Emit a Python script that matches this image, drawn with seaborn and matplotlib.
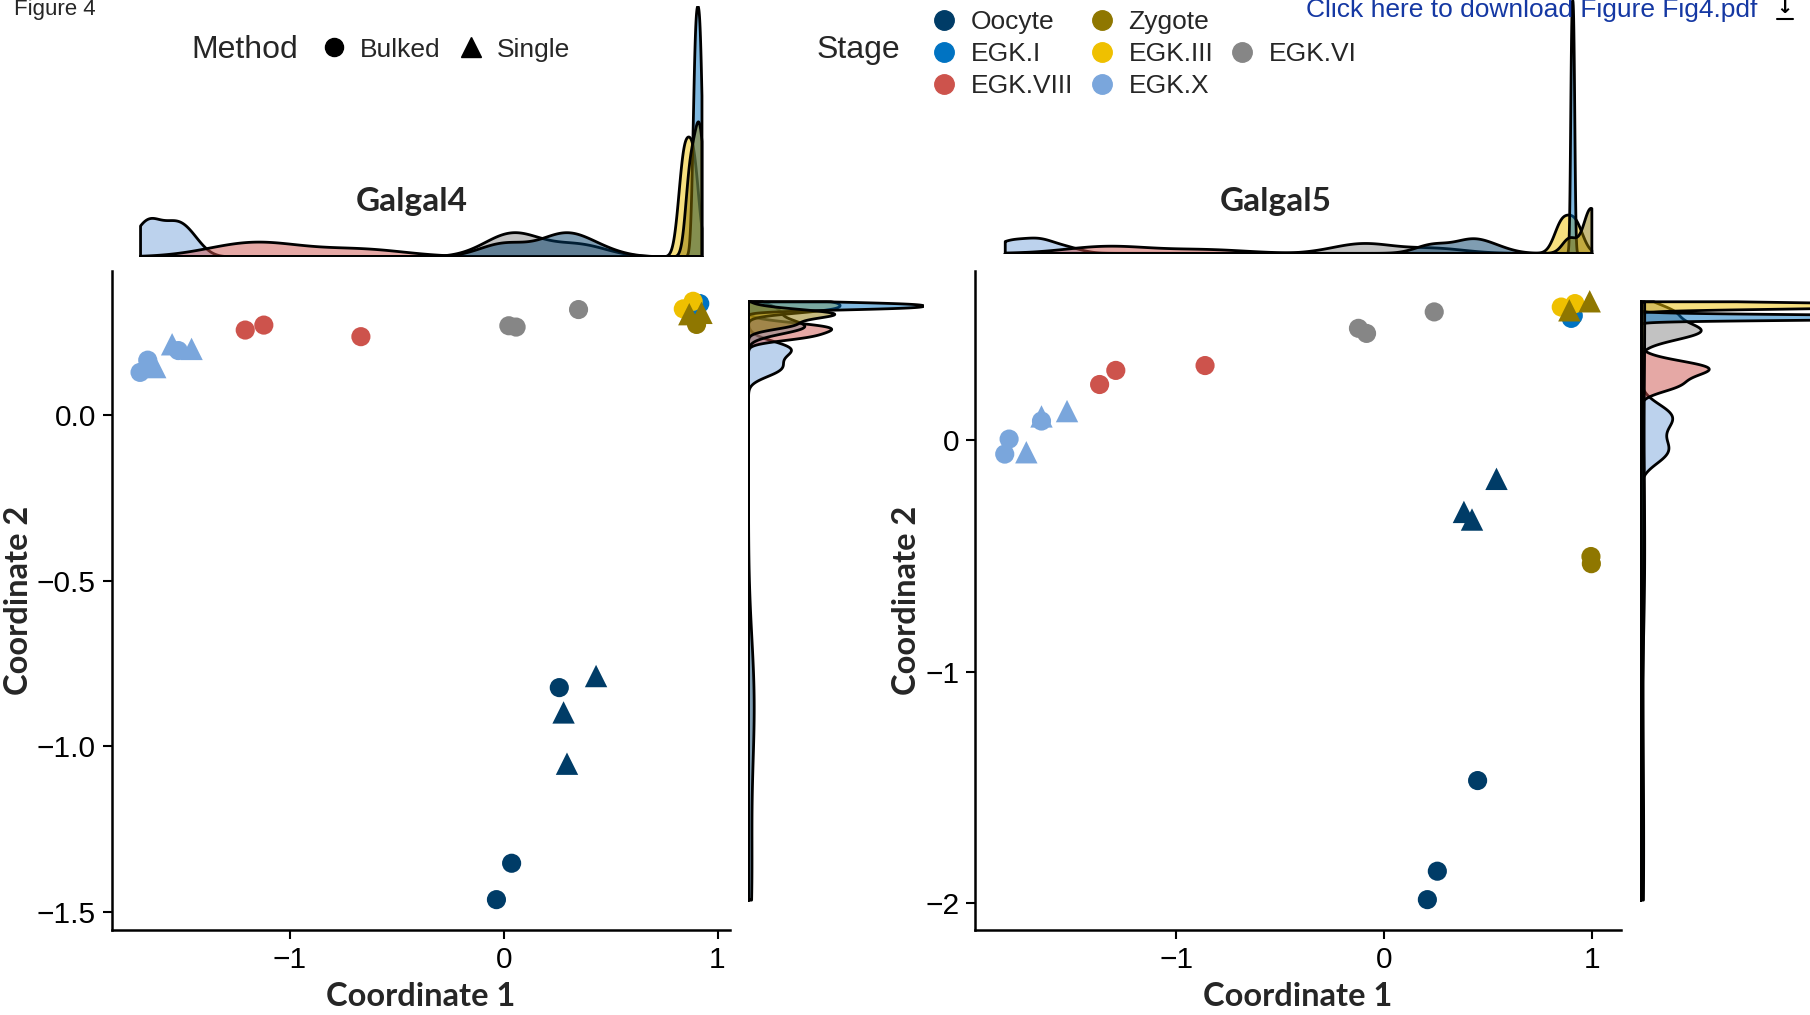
import numpy as np
import pandas as pd
import matplotlib
matplotlib.use("Agg")
import matplotlib.pyplot as plt
from matplotlib.lines import Line2D
from matplotlib.ticker import MultipleLocator
import seaborn as sns

# Stage / method levels and colours (JCO palette)
stage_order = ["Oocyte", "Zygote", "EGK.I", "EGK.III", "EGK.VI", "EGK.VIII", "EGK.X"]
stage_colors = ["#003C67", "#8F7700", "#0073C2", "#EFC000", "#868686", "#CD534C", "#7AA6DC"]
method_order = ["Bulked", "Single"]
method_markers = ["o", "^"]

# Galgal4 MDS coordinates
g4_stage = ["Oocyte", "Oocyte", "Oocyte", "Oocyte", "Oocyte", "Oocyte",
            "EGK.I", "EGK.I", "EGK.III", "EGK.III", "Zygote", "Zygote", "Zygote",
            "EGK.VI", "EGK.VI", "EGK.VI", "EGK.VIII", "EGK.VIII", "EGK.VIII",
            "EGK.X", "EGK.X", "EGK.X", "EGK.X", "EGK.X", "EGK.X"]
g4_method = ["Bulked", "Bulked", "Bulked", "Single", "Single", "Single",
             "Bulked", "Bulked", "Bulked", "Bulked", "Bulked", "Single", "Single",
             "Bulked", "Bulked", "Bulked", "Bulked", "Bulked", "Bulked",
             "Bulked", "Bulked", "Bulked", "Single", "Single", "Single"]
g4_x = [0.260, 0.037, -0.034, 0.432, 0.280, 0.296,
        0.895, 0.917, 0.886, 0.840, 0.902, 0.868, 0.925,
        0.024, 0.058, 0.350, -1.209, -1.122, -0.668,
        -1.701, -1.665, -1.522, -1.630, -1.551, -1.460]
g4_y = [-0.823, -1.354, -1.464, -0.788, -0.898, -1.053,
        0.326, 0.338, 0.345, 0.322, 0.275, 0.306, 0.310,
        0.271, 0.267, 0.320, 0.258, 0.273, 0.238,
        0.130, 0.167, 0.196, 0.146, 0.215, 0.201]

# Galgal5 MDS coordinates
g5_stage = ["Oocyte", "Oocyte", "Oocyte", "Oocyte", "Oocyte", "Oocyte",
            "EGK.I", "EGK.I", "EGK.III", "EGK.III", "Zygote", "Zygote", "Zygote", "Zygote",
            "EGK.VI", "EGK.VI", "EGK.VI", "EGK.VIII", "EGK.VIII", "EGK.VIII",
            "EGK.X", "EGK.X", "EGK.X", "EGK.X", "EGK.X", "EGK.X"]
g5_method = ["Bulked", "Bulked", "Bulked", "Single", "Single", "Single",
             "Bulked", "Bulked", "Bulked", "Bulked", "Bulked", "Bulked", "Single", "Single",
             "Bulked", "Bulked", "Bulked", "Bulked", "Bulked", "Bulked",
             "Bulked", "Bulked", "Bulked", "Single", "Single", "Single"]
g5_x = [0.451, 0.257, 0.209, 0.542, 0.385, 0.424,
        0.902, 0.912, 0.854, 0.920, 0.997, 0.999, 0.893, 0.991,
        -0.123, -0.084, 0.242, -1.370, -1.292, -0.862,
        -1.806, -1.827, -1.650, -1.723, -1.650, -1.527]
g5_y = [-1.471, -1.863, -1.986, -0.166, -0.309, -0.342,
        0.528, 0.540, 0.577, 0.592, -0.502, -0.533, 0.563, 0.602,
        0.485, 0.463, 0.556, 0.242, 0.303, 0.324,
        0.006, -0.059, 0.084, -0.051, 0.104, 0.127]

palette = dict(zip(stage_order, stage_colors))
markers = dict(zip(method_order, method_markers))

sns.set_theme(style="ticks")
plt.rcParams["font.family"] = ["Liberation Sans", "DejaVu Sans"]

fig = plt.figure(figsize=(18.10, 10.15), dpi=100)
W, H = 1568, 879


def rect(l, t, r, b):
    return [l / W, 1 - b / H, (r - l) / W, (b - t) / H]


def curve_max(ax, col):
    return max(p.vertices[:, col].max() for c in ax.collections for p in c.get_paths())


def panel(df, main_r, top_r, side_r, title, title_x, ytick_step):
    ax = fig.add_axes(rect(*main_r))
    sns.scatterplot(data=df, x="x", y="y", hue="stage", hue_order=stage_order, palette=palette,
                    style="method", markers=markers, size="method",
                    sizes={"Bulked": 190, "Single": 260}, linewidth=0, legend=False, ax=ax)
    ax.margins(0.05)
    ax.xaxis.set_major_locator(MultipleLocator(1))
    ax.yaxis.set_major_locator(MultipleLocator(ytick_step))
    sns.despine(ax=ax)
    for s in ["left", "bottom"]:
        ax.spines[s].set_linewidth(1.8)
        ax.spines[s].set_color("black")
    ax.tick_params(length=6.5, width=1.5, labelsize=21.5, colors="black", pad=5)
    ax.set_xlabel("Coordinate 1", fontsize=23.5, fontweight="bold", family="Lato", labelpad=6)
    ax.set_ylabel("Coordinate 2", fontsize=23.5, fontweight="bold", family="Lato", labelpad=3)

    # ggplot-style densities: one per stage, each evaluated over the whole data range
    kde_kws = dict(hue="stage", hue_order=stage_order, palette=palette, fill=True,
                   common_norm=False, cut=1e4, bw_adjust=0.9, gridsize=3000, alpha=0.5,
                   linewidth=2, edgecolor="black", legend=False)

    ax_top = fig.add_axes(rect(*top_r))
    sns.kdeplot(data=df, x="x", clip=(df["x"].min(), df["x"].max()), ax=ax_top, **kde_kws)
    ax_top.set_xlim(ax.get_xlim())
    ax_top.set_ylim(0, curve_max(ax_top, 1))
    ax_top.axis("off")

    ax_side = fig.add_axes(rect(*side_r))
    sns.kdeplot(data=df, y="y", clip=(df["y"].min(), df["y"].max()), ax=ax_side, **kde_kws)
    ax_side.set_ylim(ax.get_ylim())
    ax_side.set_xlim(0, curve_max(ax_side, 0))
    ax_side.axis("off")

    fig.text(title_x, 0.801, title, ha="center", va="center", fontsize=24,
             fontweight="bold", family="Lato")
    return ax


df4 = pd.DataFrame({"stage": g4_stage, "method": g4_method, "x": g4_x, "y": g4_y})
df5 = pd.DataFrame({"stage": g5_stage, "method": g5_method, "x": g5_x, "y": g5_y})

panel(df4, (97, 235, 632, 805), (97, 5, 632, 222), (648, 235, 800, 805),
      "Galgal4", 0.2277, 0.5)
panel(df5, (845, 235, 1404, 805), (845, 0, 1404, 219), (1421, 235, 1700, 805),
      "Galgal5", 0.7047, 1)

# legends
method_handles = [Line2D([], [], marker=m, ls="", color="black",
                         markersize=13 if m == "o" else 15) for m in method_markers]
fig.text(0.1059, 0.951, "Method", fontsize=23, va="center", ha="left")
fig.legend(method_handles, method_order, loc="center left", bbox_to_anchor=(0.177, 0.951),
           ncol=2, frameon=False, fontsize=19, handlelength=1.0, handletextpad=0.5,
           columnspacing=0.65, borderpad=0, borderaxespad=0)

legend_layout = ["Oocyte", "EGK.I", "EGK.VIII", "Zygote", "EGK.III", "EGK.X", "", "EGK.VI", ""]
stage_handles = [Line2D([], [], marker="o" if s else "", ls="", color=palette.get(s, "white"),
                        markersize=14) for s in legend_layout]
fig.text(0.4509, 0.951, "Stage", fontsize=23, va="center", ha="left")
fig.legend(stage_handles, legend_layout, loc="center left", bbox_to_anchor=(0.5144, 0.9465),
           ncol=3, frameon=False, fontsize=19, handlelength=1.0, handletextpad=0.5,
           columnspacing=0.6, labelspacing=0.3, borderpad=0, borderaxespad=0)

# page header
fig.text(0.0077, 0.991, "Figure 4", fontsize=16, va="center", ha="left")
fig.text(0.9707, 0.9898, "Click here to download Figure Fig4.pdf", fontsize=19,
         color="#1538a3", va="center", ha="right")
# download icon: arrow over a bar
fig.text(0.986, 0.9925, "\u2193", fontsize=14, va="center", ha="center",
         family="DejaVu Sans", fontweight="bold", color="black")
fig.add_artist(Line2D([0.9815, 0.9905], [0.9815, 0.9815], color="black", lw=1.5,
                      transform=fig.transFigure))

fig.savefig("out.png", dpi=100)
